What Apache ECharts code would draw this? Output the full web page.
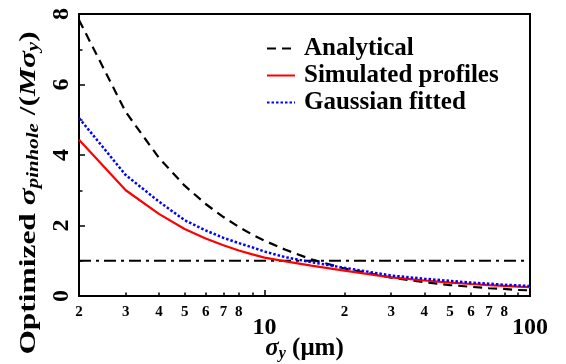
<!DOCTYPE html>
<html><head><meta charset="utf-8">
<script src="https://cdn.jsdelivr.net/npm/echarts@6/dist/echarts.min.js"></script>
<style>html,body{margin:0;padding:0;background:#fff}#c{width:566px;height:364px}</style>
</head><body><div id="c"></div>
<script>
// ---- data ----
const sigmaY     = [2, 3, 4, 5, 6, 7, 8, 9, 10, 12, 15, 20, 30, 40, 50, 60, 70, 80, 90, 100];
const analytical = [7.83, 5.22, 3.92, 3.13, 2.61, 2.24, 1.96, 1.74, 1.57, 1.31, 1.04, 0.78, 0.52, 0.39, 0.31, 0.26, 0.22, 0.20, 0.17, 0.16];
const simulated  = [4.43, 3.00, 2.33, 1.90, 1.63, 1.44, 1.29, 1.18, 1.09, 0.98, 0.86, 0.72, 0.53, 0.44, 0.38, 0.34, 0.31, 0.285, 0.265, 0.25];
const gaussian   = [5.05, 3.43, 2.68, 2.15, 1.86, 1.65, 1.50, 1.38, 1.26, 1.10, 0.96, 0.80, 0.58, 0.49, 0.43, 0.38, 0.35, 0.32, 0.30, 0.28];
const refX = [2, 100];
const refY = [1, 1];
const seriesNames = ['Analytical', 'Simulated profiles', 'Gaussian fitted'];
const xMajorTicks = [10, 100];
const xMinorTicks = [3, 4, 5, 6, 7, 8, 9, 20, 30, 40, 50, 60, 70, 80, 90];
const xLabelValues = [2, 3, 4, 5, 6, 7, 8, 10, 20, 30, 40, 50, 60, 70, 80, 100];
const xLabelTexts  = ['2','3','4','5','6','7','8','10','2','3','4','5','6','7','8','100'];
const yMin = 0, yMax = 8, yStep = 2;
const xTitle = '{s|σ}{sub|y}{b| (μm)}';
const yTitle = '{b|Optimized }{s|σ}{sub|pinhole}{b| /(}{s|Mσ}{sub|y}{b|)}';

const FONT = 'Liberation Serif';
const pair = (xs, ys) => xs.map((x, i) => [x, ys[i]]);

const chart = echarts.init(document.getElementById('c'), null, {renderer: 'canvas'});
const baseText = {fontFamily: FONT, fontWeight: 'bold', color: '#000'};

chart.setOption({
  animation: false,
  backgroundColor: '#fff',
  grid: {left: 79, right: 36, top: 14, bottom: 68, show: true, borderColor: '#000', borderWidth: 2,
         backgroundColor: 'transparent', outerBoundsMode: 'none', containLabel: false},
  legend: {
    data: seriesNames,
    orient: 'vertical',
    left: 261, top: 31,
    itemWidth: 28, itemHeight: 14, itemGap: 2,
    itemStyle: {color: 'rgba(0,0,0,0)', borderColor: 'rgba(0,0,0,0)', borderWidth: 0},
    textStyle: Object.assign({fontSize: 25, padding: [0, 0, 0, 4]}, baseText)
  },
  graphic: [{
    type: 'text',
    x: 29, y: 193,
    rotation: Math.PI / 2,
    scaleX: 1.31,
    silent: true,
    style: {
      text: yTitle,
      align: 'center', verticalAlign: 'middle',
      rich: {
        b: Object.assign({fontSize: 24}, baseText),
        s: Object.assign({fontSize: 24, fontStyle: 'italic'}, baseText),
        sub: Object.assign({fontSize: 16, fontStyle: 'italic', padding: [10, 0, 0, 0]}, baseText)
      }
    }
  }],
  xAxis: [{
    type: 'log', logBase: 10, min: 2, max: 100, position: 'bottom',
    axisLine: {lineStyle: {color: '#000', width: 2}},
    axisTick: {inside: true, length: 6, customValues: xMajorTicks, lineStyle: {color: '#000', width: 1.5}},
    splitLine: {show: false},
    axisLabel: {
      customValues: xLabelValues,
      margin: 9,
      formatter: function (v) {
        let idx = xLabelValues.findIndex(t => Math.abs(t - v) < 1e-6 * t);
        const txt = idx >= 0 ? xLabelTexts[idx] : String(v);
        return (txt === '10' || txt === '100') ? '{big|' + txt + '}' : '{sm|' + txt + '}';
      },
      rich: {
        sm: Object.assign({fontSize: 15}, baseText),
        big: Object.assign({fontSize: 24, padding: [11, 0, 0, 0]}, baseText)
      }
    },
    name: xTitle,
    nameLocation: 'middle', nameGap: 40, nameMoveOverlap: false,
    nameTextStyle: {
      rich: {
        s: Object.assign({fontSize: 25, fontStyle: 'italic'}, baseText),
        sub: Object.assign({fontSize: 16, fontStyle: 'italic', padding: [10, 0, 0, 0]}, baseText),
        b: Object.assign({fontSize: 25}, baseText)
      }
    }
  }, {
    type: 'log', logBase: 10, min: 2, max: 100, position: 'bottom',
    axisLine: {show: false},
    axisTick: {inside: true, length: 3.5, customValues: xMinorTicks, lineStyle: {color: '#000', width: 1.5}},
    axisLabel: {show: false},
    splitLine: {show: false}
  }],
  yAxis: {
    type: 'value', min: yMin, max: yMax, interval: yStep,
    axisLine: {lineStyle: {color: '#000', width: 2}},
    axisTick: {inside: true, length: 6, lineStyle: {color: '#000', width: 1.5}},
    minorTick: {show: true, splitNumber: 2, length: 3.5, lineStyle: {color: '#000', width: 1.5}},
    splitLine: {show: false},
    minorSplitLine: {show: false},
    axisLabel: Object.assign({fontSize: 24, rotate: 90, margin: 5}, baseText)
  },
  series: [{
    name: 'ref', type: 'line', xAxisIndex: 0, data: pair(refX, refY), symbol: 'none', silent: true,
    lineStyle: {color: '#000', width: 2, type: [12, 5, 3, 5]}
  }, {
    name: seriesNames[0], type: 'line', xAxisIndex: 0, data: pair(sigmaY, analytical), symbol: 'none',
    itemStyle: {color: '#000'},
    lineStyle: {color: '#000', width: 2.2, type: [9, 6]}
  }, {
    name: seriesNames[1], type: 'line', xAxisIndex: 0, data: pair(sigmaY, simulated), symbol: 'none',
    itemStyle: {color: '#ff0000'},
    lineStyle: {color: '#ff0000', width: 2.2}
  }, {
    name: seriesNames[2], type: 'line', xAxisIndex: 0, data: pair(sigmaY, gaussian), symbol: 'none',
    itemStyle: {color: '#0000ff'},
    lineStyle: {color: '#0000ff', width: 2.5, type: [2.5, 2]}
  }]
});
</script>
</body></html>
